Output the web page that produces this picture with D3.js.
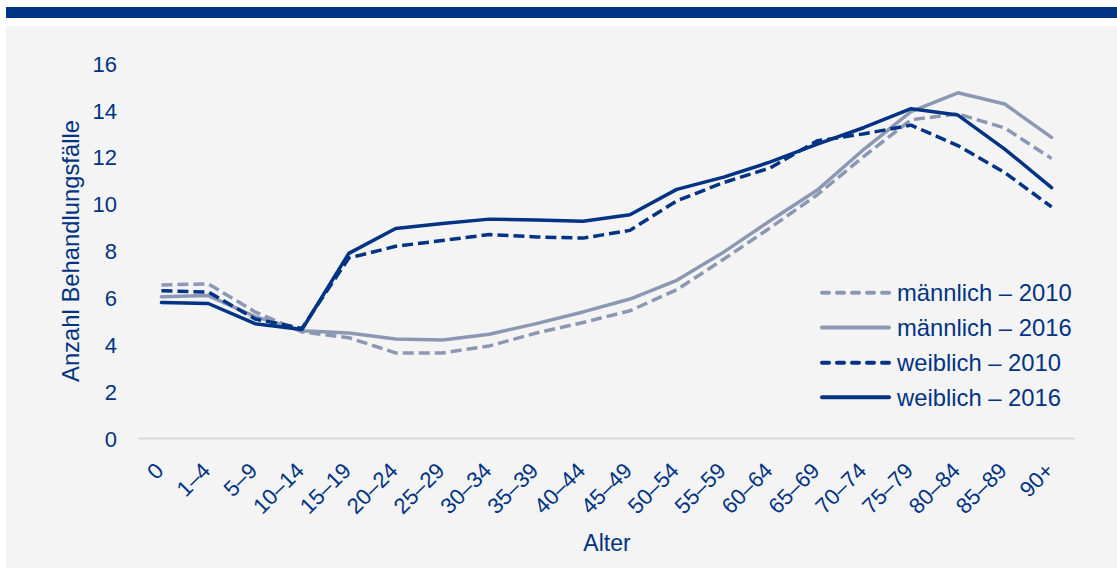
<!DOCTYPE html>
<html>
<head>
<meta charset="utf-8">
<script src="https://cdn.jsdelivr.net/npm/d3@7"></script>
<style>
  html, body { margin: 0; padding: 0; background: #ffffff; }
  svg { display: block; font-family: "Liberation Sans", Arial, sans-serif; }
</style>
</head>
<body>
<svg id="chart" width="1117" height="568"></svg>
<script>
// Altersgruppen
const ageGroups = ["0", "1–4", "5–9", "10–14", "15–19", "20–24", "25–29", "30–34", "35–39",
  "40–44", "45–49", "50–54", "55–59", "60–64", "65–69", "70–74", "75–79", "80–84", "85–89", "90+"];

// Behandlungsfälle je Altersgruppe
const maennlich2010 = [6.55, 6.6, 5.4, 4.55, 4.3, 3.65, 3.65, 3.95, 4.5, 4.95, 5.45, 6.35, 7.65, 9.0, 10.4, 12.05, 13.6, 13.85, 13.25, 11.95];
const maennlich2016 = [6.05, 6.1, 5.2, 4.6, 4.5, 4.25, 4.2, 4.45, 4.9, 5.4, 5.95, 6.75, 7.95, 9.3, 10.6, 12.35, 13.95, 14.75, 14.27, 12.85];
const weiblich2010  = [6.3, 6.25, 5.1, 4.7, 7.7, 8.2, 8.45, 8.7, 8.6, 8.55, 8.88, 10.14, 10.92, 11.55, 12.7, 13.0, 13.37, 12.5, 11.35, 9.88];
const weiblich2016  = [5.8, 5.76, 4.9, 4.65, 7.9, 8.96, 9.17, 9.36, 9.32, 9.27, 9.55, 10.63, 11.15, 11.8, 12.56, 13.27, 14.07, 13.8, 12.35, 10.7];

const yTicks = [0, 2, 4, 6, 8, 10, 12, 14, 16];

const navy = "#003383";
const greyBlue = "#8c98b3";

const seriesList = [
  { name: "männlich – 2010", values: maennlich2010, color: greyBlue, dash: "11,5", width: 3.5 },
  { name: "männlich – 2016", values: maennlich2016, color: greyBlue, dash: null, width: 3.5 },
  { name: "weiblich – 2010", values: weiblich2010, color: navy, dash: "11,5", width: 3.5 },
  { name: "weiblich – 2016", values: weiblich2016, color: navy, dash: null, width: 3.5 }
];

const svg = d3.select("#chart");

// header band and panel
svg.append("rect").attr("x", 6).attr("y", 7).attr("width", 1111).attr("height", 11).attr("fill", navy);
svg.append("rect").attr("x", 6).attr("y", 26).attr("width", 1111).attr("height", 542).attr("fill", "#f4f4f4");

const x = d3.scaleBand().domain(ageGroups).range([138, 1075]);
const y = d3.scaleLinear().domain([0, 16]).range([438.5, 63.5]);
const xc = d => x(d) + x.bandwidth() / 2;

// y axis labels
const yAxis = d3.axisLeft(y).tickValues(yTicks).tickSize(0).tickPadding(0).tickFormat(d3.format("d"));
const gy = svg.append("g").attr("transform", "translate(117,0)").call(yAxis);
gy.select(".domain").remove();
gy.selectAll("text").attr("fill", navy).style("font-size", "22px").attr("dy", "0.35em")
  .style("font-family", "'Liberation Sans', Arial, sans-serif");

// baseline
svg.append("line").attr("x1", 138).attr("x2", 1075).attr("y1", y(0)).attr("y2", y(0))
  .attr("stroke", "#d9d9d9").attr("stroke-width", 2);

// x axis labels
const xAxis = d3.axisBottom(x).tickSize(0).tickPadding(0);
const gx = svg.append("g").call(xAxis);
gx.select(".domain").remove();
gx.selectAll(".tick").attr("transform", d => `translate(${xc(d) + 3.5},472)`);
gx.selectAll("text")
  .attr("fill", navy).style("font-size", "22px")
  .style("font-family", "'Liberation Sans', Arial, sans-serif")
  .attr("x", 0).attr("y", 0).attr("dy", 0)
  .attr("text-anchor", "end")
  .attr("transform", "rotate(-45)");

// axis titles
svg.append("text").attr("x", 607).attr("y", 551).attr("text-anchor", "middle")
  .attr("fill", navy).style("font-size", "23px").text("Alter");
svg.append("text").attr("transform", "translate(78.5,251) rotate(-90)").attr("text-anchor", "middle")
  .attr("fill", navy).style("font-size", "23.8px").text("Anzahl Behandlungsfälle");

// lines
const line = d3.line().x((d, i) => xc(ageGroups[i])).y(d => y(d));
seriesList.forEach(s => {
  svg.append("path").datum(s.values).attr("d", line)
    .attr("fill", "none").attr("stroke", s.color).attr("stroke-width", s.width)
    .attr("stroke-linejoin", "round").attr("stroke-linecap", s.dash ? "butt" : "round")
    .attr("stroke-dasharray", s.dash);
});

// legend
const legendRows = [292.7, 327.5, 362.7, 397.3];
seriesList.forEach((s, i) => {
  const g = svg.append("g").attr("transform", `translate(0,${legendRows[i]})`);
  g.append("line").attr("x1", 822).attr("x2", 889).attr("y1", 0).attr("y2", 0)
    .attr("stroke", s.color).attr("stroke-width", 4)
    .attr("stroke-linecap", "round")
    .attr("stroke-dasharray", s.dash ? "7,8" : null);
  g.append("text").attr("x", 897).attr("y", 0).attr("dy", "0.36em")
    .attr("fill", navy).style("font-size", "23.8px").text(s.name);
});
</script>
</body>
</html>
